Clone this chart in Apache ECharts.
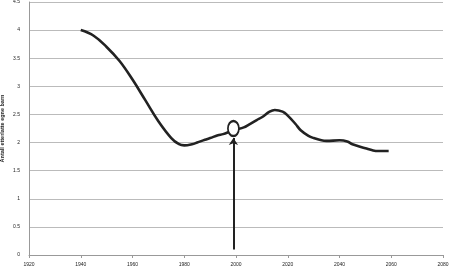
<!DOCTYPE html>
<html><head><meta charset="utf-8">
<script src="https://cdn.jsdelivr.net/npm/echarts@6/dist/echarts.min.js"></script>
<style>html,body{margin:0;padding:0;background:#fff}#c{width:450px;height:267px}</style>
</head><body><div id="c"></div>
<script>
const years = [1940,1945,1950,1955,1960,1965,1970,1975,1978,1980,1983,1985,1988,1990,1993,1995,1998,2000,2003,2005,2008,2010,2013,2015,2018,2020,2023,2025,2028,2030,2033,2035,2040,2043,2045,2050,2053,2055,2059];
const values = [4.00,3.90,3.70,3.45,3.12,2.75,2.38,2.08,1.97,1.95,1.97,2.00,2.05,2.08,2.13,2.15,2.20,2.23,2.27,2.32,2.40,2.45,2.55,2.58,2.55,2.48,2.33,2.22,2.12,2.08,2.04,2.03,2.04,2.02,1.97,1.90,1.86,1.85,1.85];
const markerPoint = [1999, 2.25];
const arrowLine = [[1999, 0.1], [1999, 2.08]];
const yTicks = [0,0.5,1,1.5,2,2.5,3,3.5,4,4.5];
const xTicks = [1920,1940,1960,1980,2000,2020,2040,2060,2080];
const yName = 'Antall etterlatte egne barn';

const chart = echarts.init(document.getElementById('c'), null, {renderer:'canvas'});
chart.setOption({
  animation:false,
  textStyle:{fontFamily:'Liberation Sans, Arial, sans-serif'},
  grid:{left:29,right:7,top:2,bottom:12,containLabel:false,outerBoundsMode:'none'},
  xAxis:{type:'value',min:xTicks[0],max:xTicks[xTicks.length-1],interval:20,
    axisLine:{lineStyle:{color:'#999',width:1}},
    axisTick:{show:true,length:3,lineStyle:{color:'#999'}},
    axisLabel:{fontSize:5,color:'#222',margin:7,formatter:v=>String(v)},
    splitLine:{show:false}},
  yAxis:{type:'value',min:yTicks[0],max:yTicks[yTicks.length-1],interval:0.5,
    name:yName,nameLocation:'middle',nameGap:24,nameRotate:90,nameMoveOverlap:false,
    nameTextStyle:{fontSize:5.5,fontWeight:'bold',color:'#222'},
    axisLine:{show:true,lineStyle:{color:'#999',width:1}},
    axisTick:{show:false},
    axisLabel:{fontSize:5,color:'#222',margin:9,formatter:v=>String(v)},
    splitLine:{lineStyle:{color:'#bbb',width:1}}},
  series:[
    {type:'line',data:years.map((y,i)=>[y,values[i]]),smooth:0.4,showSymbol:false,
     lineStyle:{color:'#222',width:2.6},z:3},
    {type:'line',data:arrowLine,showSymbol:false,lineStyle:{width:0},
     markLine:{silent:true,symbol:['none','arrow'],symbolSize:7,
      label:{show:false},lineStyle:{color:'#222',width:2,type:'solid'},
      data:[[{coord:arrowLine[0]},{coord:arrowLine[1]}]]},z:4},
    {type:'scatter',data:[markerPoint],symbol:'circle',symbolSize:[11,15],
     itemStyle:{color:'#fff',borderColor:'#222',borderWidth:2,opacity:1},z:5}
  ]
});
</script></body></html>
